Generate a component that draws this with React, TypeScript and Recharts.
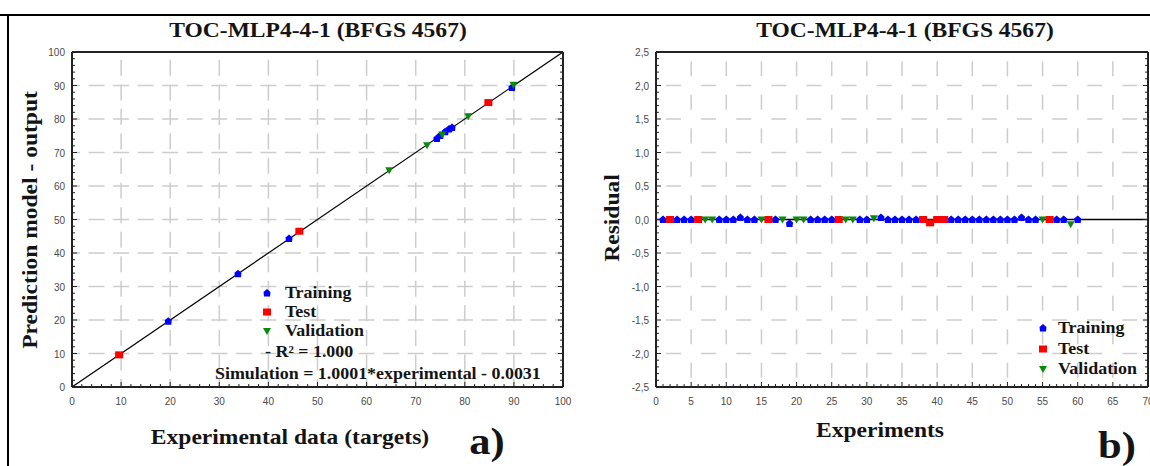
import React from 'react';
import { ScatterChart, Scatter, XAxis, YAxis, ReferenceLine } from 'recharts';

// ---------- Panel a) : prediction vs experimental ----------
const trainingExp = [19.6, 33.8, 44.2, 74.3, 75.0, 76.0, 76.8, 77.4, 89.6];
const trainingPred = [19.6, 33.8, 44.3, 74.2, 75.1, 76.2, 77.0, 77.5, 89.4];
const testExp = [9.6, 46.3, 84.8];
const testPred = [9.6, 46.5, 84.9];
const validationExp = [64.6, 72.3, 75.4, 80.7, 89.9];
const validationPred = [64.7, 72.2, 75.4, 80.8, 90.2];
const fitSlope = 1.0001;
const fitIntercept = -0.0031;
const fitRange = [0, 100];
const r2Text = '1.000';

const leftGrid = [10, 20, 30, 40, 50, 60, 70, 80, 90];

// ---------- Panel b) : residuals ----------
const trainExperiments = [1, 3, 4, 5, 9, 10, 11, 12, 13, 14, 17, 19, 22, 23, 24, 25, 29, 30, 32, 33, 34, 35, 36, 37, 42, 43, 44, 45, 46, 47, 48, 49, 50, 51, 52, 53, 54, 57, 58, 60];
const trainResiduals = [0.0, 0.0, 0.0, 0.0, 0.0, 0.0, 0.0, 0.03, 0.0, 0.0, 0.0, -0.06, 0.0, 0.0, 0.0, 0.0, 0.0, 0.0, 0.03, 0.0, 0.0, 0.0, 0.0, 0.0, 0.0, 0.0, 0.0, 0.0, 0.0, 0.0, 0.0, 0.0, 0.0, 0.0, 0.03, 0.0, 0.0, 0.0, 0.0, 0.0];
const testExperiments = [2, 6, 16, 26, 38, 39, 40, 41, 56];
const testResiduals = [0.0, 0.0, 0.0, 0.0, 0.0, -0.05, 0.0, 0.0, 0.0];
const validExperiments = [7, 8, 15, 18, 20, 21, 27, 28, 31, 55, 59];
const validResiduals = [0.0, 0.0, 0.0, 0.0, 0.0, 0.0, 0.0, 0.0, 0.02, 0.0, -0.07];

const rightGridX = [5, 10, 15, 20, 25, 30, 35, 40, 45, 50, 55, 60, 65];
const rightGridY = [-2, -1.5, -1, -0.5, 0.5, 1, 1.5, 2];

const titleText = 'TOC-MLP4-4-1 (BFGS 4567)';
const seriesNames = ['Training', 'Test', 'Validation'];
const seriesColors = ['#0000ff', '#ff0000', '#0a8a0a'];

// ---------- helpers ----------
const zip = (xs: number[], ys: number[]) => xs.map((x, i) => ({ x, y: ys[i] }));
const range = (a: number, b: number, step: number) => {
  const out: number[] = [];
  const n = Math.round((b - a) / step);
  for (let i = 0; i <= n; i++) out.push(Math.round((a + i * step) * 1000) / 1000);
  return out;
};

const leftMinor = range(0, 100, 2);
const rightXMinor = range(0, 70, 1);
const rightYMinor = range(-2.5, 2.5, 0.1);

const SERIF = '"Liberation Serif", "Times New Roman", serif';
const SANS = '"Liberation Sans", Arial, sans-serif';
const AXIS = '#222';
const GRID = '#cdcdcd';

// dash patterns: crosses on intersections (panel a), dashes centred in cells (panel b)
const crossDash = (period: number, dash: number) => `${dash / 2} ${period - dash} ${dash / 2} 0`;
const cellDash = (period: number, dash: number) => `0 ${(period - dash) / 2} ${dash} ${(period - dash) / 2}`;
const leftDash = crossDash(24.55, 16);
const rightDashH = cellDash(35.1, 15);
const rightDashV = cellDash(33.5, 15);

const isOn = (v: number, step: number) => {
  const r = v / step;
  return Math.abs(r - Math.round(r)) < 1e-6;
};
const fmtInt = (v: number) => String(v);
const fmtComma = (v: number) => (Math.abs(v) < 1e-9 ? '0,0' : v.toFixed(1).replace('.', ','));

const tickText = { fontFamily: SANS, fontSize: 10, fill: '#4a4a4a' } as const;

const makeTick = (side: 'bottom' | 'top' | 'left' | 'right', step: number, fmt: ((v: number) => string) | null) =>
  (p: any) => {
    const v = p.payload.value as number;
    const major = isOn(v, step);
    const len = major ? 5 : 3;
    const x = p.x, y = p.y;
    let line;
    let label = null;
    if (side === 'bottom') {
      line = <line x1={x} y1={y} x2={x} y2={y - len} stroke={AXIS} strokeWidth={1} />;
      if (major && fmt) label = <text x={x} y={y + 18} textAnchor="middle" {...tickText}>{fmt(v)}</text>;
    } else if (side === 'top') {
      line = <line x1={x} y1={y} x2={x} y2={y + len} stroke={AXIS} strokeWidth={1} />;
    } else if (side === 'left') {
      line = <line x1={x} y1={y} x2={x + len} y2={y} stroke={AXIS} strokeWidth={1} />;
      if (major && fmt) label = <text x={x - 7} y={y + 4} textAnchor="end" {...tickText}>{fmt(v)}</text>;
    } else {
      line = <line x1={x} y1={y} x2={x - len} y2={y} stroke={AXIS} strokeWidth={1} />;
    }
    return <g>{line}{label}</g>;
  };

// marker shapes
const Diamond = (p: any) => {
  const { cx, cy } = p;
  return <polygon points={`${cx},${cy - 4} ${cx + 3.5},${cy - 1} ${cx + 3},${cy + 3.5} ${cx - 3},${cy + 3.5} ${cx - 3.5},${cy - 1}`} fill={seriesColors[0]} />;
};
const Square = (p: any) => {
  const { cx, cy } = p;
  return <rect x={cx - 4} y={cy - 3.5} width={8} height={7} fill={seriesColors[1]} />;
};
const Tri = (p: any) => {
  const { cx, cy } = p;
  return <polygon points={`${cx - 4},${cy - 3} ${cx + 4},${cy - 3} ${cx},${cy + 4}`} fill={seriesColors[2]} />;
};

const axisLine = { stroke: AXIS, strokeWidth: 2 };

const Txt = ({ x, y, size, children, rotate = false, anchor = 'center', stretch = 1.12 }: any) => {
  const tx = anchor === 'center' ? '-50%' : '0';
  const transform = rotate
    ? `translate(-50%,-50%) rotate(-90deg) scaleX(${stretch})`
    : `translate(${tx},-50%) scaleX(${stretch})`;
  return (
    <div
      style={{
        position: 'absolute',
        left: x,
        top: y,
        transform,
        transformOrigin: anchor === 'center' || rotate ? 'center center' : 'left center',
        fontFamily: SERIF,
        fontWeight: 'bold',
        fontSize: size,
        lineHeight: 1,
        whiteSpace: 'nowrap',
        color: '#141414',
      }}
    >
      {children}
    </div>
  );
};

const LegendMark = ({ x, y, kind }: any) => (
  <svg style={{ position: 'absolute', left: x - 6, top: y - 6 }} width={12} height={12}>
    {kind === 0 && <Diamond cx={6} cy={6} />}
    {kind === 1 && <Square cx={6} cy={6} />}
    {kind === 2 && <Tri cx={6} cy={6} />}
  </svg>
);

export default function App() {
  const trainA = zip(trainingExp, trainingPred);
  const testA = zip(testExp, testPred);
  const validA = zip(validationExp, validationPred);
  const trainB = zip(trainExperiments, trainResiduals);
  const testB = zip(testExperiments, testResiduals);
  const validB = zip(validExperiments, validResiduals);

  const fitSegment = [
    { x: fitRange[0], y: fitSlope * fitRange[0] + fitIntercept },
    { x: fitRange[1], y: fitSlope * fitRange[1] + fitIntercept },
  ];

  return (
    <div style={{ position: 'absolute', left: 0, top: 0, width: 1150, height: 466, background: '#fff', overflow: 'hidden' }}>
      {/* frame */}
      <div style={{ position: 'absolute', left: 0, top: 14, width: 1150, height: 2, background: '#000' }} />
      <div style={{ position: 'absolute', left: 7, top: 14, width: 2, height: 452, background: '#000' }} />

      {/* Panel a */}
      <div style={{ position: 'absolute', left: 0, top: 0 }}>
        <ScatterChart width={575} height={466} margin={{ top: 0, right: 0, bottom: 0, left: 0 }}>
          <XAxis xAxisId="b" type="number" dataKey="x" domain={[0, 100]} ticks={leftMinor} interval={0} orientation="bottom" height={79}
            tickSize={0} tickMargin={0} tickLine={false} axisLine={axisLine} tick={makeTick('bottom', 10, fmtInt)} allowDataOverflow />
          <XAxis xAxisId="t" type="number" domain={[0, 100]} ticks={leftMinor} interval={0} orientation="top" height={52}
            tickSize={0} tickMargin={0} tickLine={false} axisLine={axisLine} tick={makeTick('top', 10, null)} allowDataOverflow />
          <YAxis yAxisId="l" type="number" dataKey="y" domain={[0, 100]} ticks={leftMinor} interval={0} orientation="left" width={72}
            tickSize={0} tickMargin={0} tickLine={false} axisLine={axisLine} tick={makeTick('left', 10, fmtInt)} allowDataOverflow />
          <YAxis yAxisId="r" type="number" domain={[0, 100]} ticks={leftMinor} interval={0} orientation="right" width={12}
            tickSize={0} tickMargin={0} tickLine={false} axisLine={axisLine} tick={makeTick('right', 10, null)} allowDataOverflow />
          {leftGrid.map((v) => (
            <ReferenceLine key={'gx' + v} xAxisId="b" yAxisId="l" x={v} stroke={GRID} strokeWidth={1.5} strokeDasharray={leftDash} />
          ))}
          {leftGrid.map((v) => (
            <ReferenceLine key={'gy' + v} xAxisId="b" yAxisId="l" y={v} stroke={GRID} strokeWidth={1.5} strokeDasharray={leftDash} />
          ))}
          <ReferenceLine xAxisId="b" yAxisId="l" segment={fitSegment} ifOverflow="hidden" stroke="#000" strokeWidth={1.2} />
          <Scatter name={seriesNames[0]} xAxisId="b" yAxisId="l" data={trainA} shape={Diamond} isAnimationActive={false} />
          <Scatter name={seriesNames[1]} xAxisId="b" yAxisId="l" data={testA} shape={Square} isAnimationActive={false} />
          <Scatter name={seriesNames[2]} xAxisId="b" yAxisId="l" data={validA} shape={Tri} isAnimationActive={false} />
        </ScatterChart>
      </div>

      {/* Panel b */}
      <div style={{ position: 'absolute', left: 575, top: 0 }}>
        <ScatterChart width={575} height={466} margin={{ top: 0, right: 0, bottom: 0, left: 0 }}>
          <XAxis xAxisId="b" type="number" dataKey="x" domain={[0, 70]} ticks={rightXMinor} interval={0} orientation="bottom" height={79}
            tickSize={0} tickMargin={0} tickLine={false} axisLine={axisLine} tick={makeTick('bottom', 5, fmtInt)} allowDataOverflow />
          <XAxis xAxisId="t" type="number" domain={[0, 70]} ticks={rightXMinor} interval={0} orientation="top" height={52}
            tickSize={0} tickMargin={0} tickLine={false} axisLine={axisLine} tick={makeTick('top', 5, null)} allowDataOverflow />
          <YAxis yAxisId="l" type="number" dataKey="y" domain={[-2.5, 2.5]} ticks={rightYMinor} interval={0} orientation="left" width={81}
            tickSize={0} tickMargin={0} tickLine={false} axisLine={axisLine} tick={makeTick('left', 0.5, fmtComma)} allowDataOverflow />
          <YAxis yAxisId="r" type="number" domain={[-2.5, 2.5]} ticks={rightYMinor} interval={0} orientation="right" width={2}
            tickSize={0} tickMargin={0} tickLine={false} axisLine={axisLine} tick={makeTick('right', 0.5, null)} allowDataOverflow />
          {rightGridX.map((v) => (
            <ReferenceLine key={'rgx' + v} xAxisId="b" yAxisId="l" x={v} stroke={GRID} strokeWidth={1.5} strokeDasharray={rightDashV} />
          ))}
          {rightGridY.map((v) => (
            <ReferenceLine key={'rgy' + v} xAxisId="b" yAxisId="l" y={v} stroke={GRID} strokeWidth={1.5} strokeDasharray={rightDashH} />
          ))}
          <ReferenceLine xAxisId="b" yAxisId="l" y={0} stroke="#000" strokeWidth={1.5} />
          <Scatter name={seriesNames[0]} xAxisId="b" yAxisId="l" data={trainB} shape={Diamond} isAnimationActive={false} />
          <Scatter name={seriesNames[1]} xAxisId="b" yAxisId="l" data={testB} shape={Square} isAnimationActive={false} />
          <Scatter name={seriesNames[2]} xAxisId="b" yAxisId="l" data={validB} shape={Tri} isAnimationActive={false} />
        </ScatterChart>
      </div>

      {/* titles and labels */}
      <Txt x={318} y={30} size={21}>{titleText}</Txt>
      <Txt x={905} y={30} size={21}>{titleText}</Txt>
      <Txt x={290} y={437} size={21}>Experimental data (targets)</Txt>
      <Txt x={880} y={430} size={21}>Experiments</Txt>
      <Txt x={30} y={220} size={21} rotate>Prediction model - output</Txt>
      <Txt x={612} y={218} size={21} rotate>Residual</Txt>
      <Txt x={487} y={441} size={38}>a)</Txt>
      <Txt x={1117} y={445} size={38}>b)</Txt>

      {/* legend panel a */}
      {seriesNames.map((n, i) => (
        <React.Fragment key={'la' + n}>
          <LegendMark x={267} y={293 + i * 19} kind={i} />
          <Txt x={285} y={293 + i * 19} size={16} anchor="left">{n}</Txt>
        </React.Fragment>
      ))}
      <Txt x={265} y={352} size={16} anchor="left">- R² = {r2Text}</Txt>
      <Txt x={215} y={374} size={16} anchor="left">{`Simulation = ${fitSlope.toFixed(4)}*experimental - ${Math.abs(fitIntercept).toFixed(4)}`}</Txt>

      {/* legend panel b */}
      {seriesNames.map((n, i) => (
        <React.Fragment key={'lb' + n}>
          <LegendMark x={1043} y={328 + i * 20.5} kind={i} />
          <Txt x={1058} y={328 + i * 20.5} size={16} anchor="left">{n}</Txt>
        </React.Fragment>
      ))}
    </div>
  );
}
